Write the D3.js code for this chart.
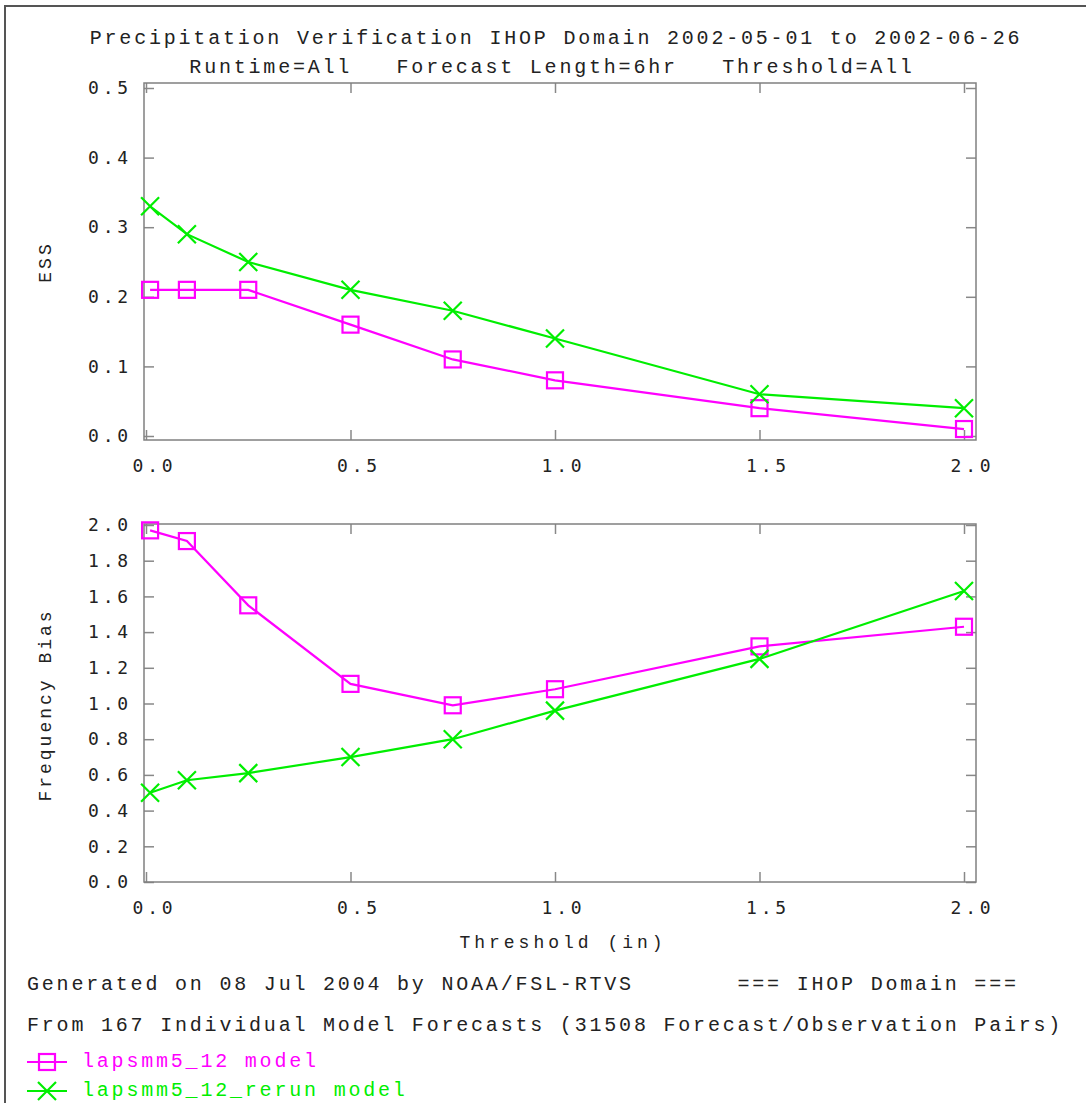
<!DOCTYPE html>
<html>
<head>
<meta charset="utf-8">
<script src="https://cdn.jsdelivr.net/npm/d3@7"></script>
<style>
  body { margin: 0; background: #fff; }
  .tick text { font-family: "DejaVu Sans Mono", monospace; font-size: 18px; letter-spacing: 3.8px; fill: #222; }
  .txt { font-family: "Liberation Mono", "Courier New", monospace; font-size: 20px; letter-spacing: 2.8px; fill: #222; }
</style>
</head>
<body>
<svg width="1086" height="1103"></svg>
<script>
const width = 1086;
const height = 1103;

// thresholds (in)
const thresholds = [0.01, 0.1, 0.25, 0.5, 0.75, 1.0, 1.5, 2.0];

const essModel = [0.21, 0.21, 0.21, 0.16, 0.11, 0.08, 0.04, 0.01];
const essRerun = [0.33, 0.29, 0.25, 0.21, 0.18, 0.14, 0.06, 0.04];

const biasModel = [1.97, 1.91, 1.55, 1.11, 0.99, 1.08, 1.32, 1.43];
const biasRerun = [0.50, 0.57, 0.61, 0.70, 0.80, 0.96, 1.25, 1.63];

const xTicks = [0, 0.5, 1.0, 1.5, 2.0];
const essTicks = [0, 0.1, 0.2, 0.3, 0.4, 0.5];
const biasTicks = [0, 0.2, 0.4, 0.6, 0.8, 1.0, 1.2, 1.4, 1.6, 1.8, 2.0];

const seriesNames = ['lapsmm5_12 model', 'lapsmm5_12_rerun model'];
const seriesColors = ['#ff00ff', '#00ee00'];

const svg = d3.select('svg');

// outer frame (top + left only)
svg.append('path')
  .attr('d', 'M5,' + height + 'V6H' + width)
  .attr('fill', 'none')
  .attr('stroke', '#555')
  .attr('stroke-width', 2);

// titles
svg.append('text').classed('txt', true)
  .attr('x', 556).attr('y', 44)
  .style('text-anchor', 'middle')
  .text('Precipitation Verification IHOP Domain 2002-05-01 to 2002-06-26');

svg.append('text').classed('txt', true)
  .attr('x', 552).attr('y', 73)
  .style('text-anchor', 'middle')
  .style('white-space', 'pre')
  .text('Runtime=All   Forecast Length=6hr   Threshold=All');

let xScale = d3.scaleLinear()
  .domain([0, 2])
  .range([146, 964]);

const frameLeft = 144;
const frameRight = 976;

function drawPanel(top, bottom, yScale, yTicks, fmt, label, labelY, model, rerun) {
  let g = svg.append('g');

  // left ticks + labels
  g.append('g')
    .attr('transform', 'translate(' + frameLeft + ',0)')
    .call(d3.axisLeft(yScale).tickValues(yTicks).tickFormat(fmt)
      .tickSizeInner(-10).tickSizeOuter(0).tickPadding(12));

  // right ticks
  g.append('g')
    .attr('transform', 'translate(' + frameRight + ',0)')
    .call(d3.axisRight(yScale).tickValues(yTicks).tickFormat('')
      .tickSizeInner(-10).tickSizeOuter(0));

  // bottom ticks + labels
  g.append('g')
    .attr('transform', 'translate(0,' + bottom + ')')
    .call(d3.axisBottom(xScale).tickValues(xTicks).tickFormat(d3.format('.1f'))
      .tickSizeInner(-10).tickSizeOuter(0))
    .selectAll('text')
      .attr('y', 32).attr('dy', 0).attr('dx', 8);

  // top ticks
  g.append('g')
    .attr('transform', 'translate(0,' + top + ')')
    .call(d3.axisTop(xScale).tickValues(xTicks).tickFormat('')
      .tickSizeInner(-10).tickSizeOuter(0));

  g.selectAll('.domain').remove();
  g.selectAll('.tick line').attr('stroke', '#888').attr('stroke-width', 1.5);

  // frame
  g.append('rect')
    .attr('x', frameLeft).attr('y', top)
    .attr('width', frameRight - frameLeft).attr('height', bottom - top)
    .attr('fill', 'none')
    .attr('stroke', '#808080')
    .attr('stroke-width', 1.5);

  // y label
  g.append('text').classed('txt', true)
    .style('text-anchor', 'middle')
    .attr('transform', 'translate(51,' + labelY + ') rotate(-90)')
    .style('font-size', '18px')
    .style('letter-spacing', '3px')
    .text(label);

  let line = d3.line()
    .x((d, i) => xScale(thresholds[i]))
    .y(d => yScale(d));

  [model, rerun].forEach((vals, s) => {
    g.append('path')
      .datum(vals)
      .attr('d', line)
      .attr('fill', 'none')
      .attr('stroke', seriesColors[s])
      .attr('stroke-width', 2.2);
  });

  // square markers
  g.selectAll('rect.mk')
    .data(model)
    .enter()
    .append('rect')
      .classed('mk', true)
      .attr('x', (d, i) => xScale(thresholds[i]) - 8)
      .attr('y', d => yScale(d) - 8)
      .attr('width', 16)
      .attr('height', 16)
      .attr('fill', 'none')
      .attr('stroke', seriesColors[0])
      .attr('stroke-width', 2.2);

  // x markers
  g.selectAll('path.xm')
    .data(rerun)
    .enter()
    .append('path')
      .classed('xm', true)
      .attr('d', (d, i) => {
        let cx = xScale(thresholds[i]), cy = yScale(d), r = 9;
        return 'M' + (cx - r) + ',' + (cy - r) + 'L' + (cx + r) + ',' + (cy + r) +
               'M' + (cx - r) + ',' + (cy + r) + 'L' + (cx + r) + ',' + (cy - r);
      })
      .attr('stroke', seriesColors[1])
      .attr('stroke-width', 2.2);
}

// ESS panel
let yEss = d3.scaleLinear().domain([0, 0.5]).range([436, 88]);
drawPanel(83, 440, yEss, essTicks, d3.format('.1f'), 'ESS', 262, essModel, essRerun);

// Frequency bias panel
let yBias = d3.scaleLinear().domain([0, 2]).range([882, 525]);
drawPanel(524, 882, yBias, biasTicks, d3.format('.1f'), 'Frequency Bias', 705, biasModel, biasRerun);

// x label
svg.append('text').classed('txt', true)
  .attr('x', 563).attr('y', 948)
  .style('text-anchor', 'middle')
  .style('font-size', '18px')
  .style('letter-spacing', '4px')
  .text('Threshold (in)');

// footer
svg.append('text').classed('txt', true)
  .attr('x', 27).attr('y', 990)
  .style('white-space', 'pre')
  .text('Generated on 08 Jul 2004 by NOAA/FSL-RTVS       === IHOP Domain ===');

svg.append('text').classed('txt', true)
  .attr('x', 27).attr('y', 1031)
  .text('From 167 Individual Model Forecasts (31508 Forecast/Observation Pairs)');

// legend
let legend = svg.selectAll('g.legend')
  .data(seriesNames)
  .enter()
  .append('g')
    .classed('legend', true)
    .attr('transform', (d, i) => 'translate(0,' + (1062 + i * 29) + ')');

legend.append('line')
  .attr('x1', 27).attr('x2', 67)
  .attr('stroke', (d, i) => seriesColors[i])
  .attr('stroke-width', 2.2);

legend.filter((d, i) => i === 0)
  .append('rect')
    .attr('x', 39).attr('y', -8).attr('width', 16).attr('height', 16)
    .attr('fill', 'none').attr('stroke', seriesColors[0]).attr('stroke-width', 2.2);

legend.filter((d, i) => i === 1)
  .append('path')
    .attr('d', 'M38,-9L56,9M38,9L56,-9')
    .attr('stroke', seriesColors[1]).attr('stroke-width', 2.2);

legend.append('text').classed('txt', true)
  .attr('x', 82).attr('y', 5)
  .style('fill', (d, i) => seriesColors[i])
  .text(d => d);
</script>
</body>
</html>
